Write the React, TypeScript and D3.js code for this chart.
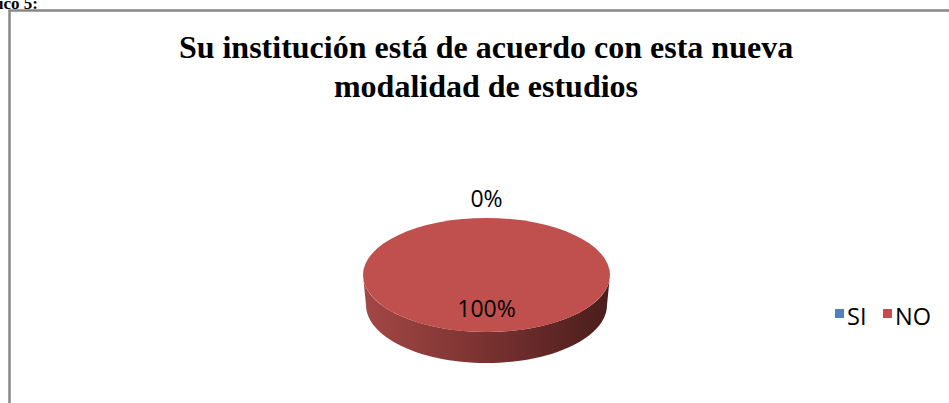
import React from "react";
import * as d3 from "d3";

const categories = ["SI", "NO"];
const values = [0, 100];
const colors = ["#4f81bd", "#c0504d"];
const titleLines = ["Su institución está de acuerdo con esta nueva", "modalidad de estudios"];
const caption = "Gráfico 5:";

const W = 949;
const H = 403;

export default function App() {
  const cx = 486.5;
  const cy = 275;
  const rx = 123.5;
  const ry = 57;
  const depth = 30;
  const total = d3.sum(values);
  const pie = d3.pie<number>().sort(null).value((d) => d);
  const arcs = pie(values);

  const ellipsePt = (a: number, k: number, dy = 0) => [cx + rx * k * Math.sin(a), cy + dy - ry * k * Math.cos(a)];

  const n = 60;
  const front: [number, number][] = [];
  for (let i = 0; i <= n; i++) {
    const t = Math.PI / 2 + (Math.PI * i) / n;
    front.push([cx + rx * Math.sin(t), cy - ry * Math.cos(t)]);
  }
  const back: [number, number][] = [];
  const rxb = rx - 3;
  const ryb = ry + 1;
  for (let i = n; i >= 0; i--) {
    const t = Math.PI / 2 + (Math.PI * i) / n;
    back.push([cx + rxb * Math.sin(t), cy + depth - ryb * Math.cos(t)]);
  }
  const sidePath = d3.line()([...front, ...back]) + "Z";

  const topArc = (a0: number, a1: number) => {
    if (a1 - a0 <= 0) return "";
    if (a1 - a0 >= 2 * Math.PI - 1e-6) {
      return `M${cx - rx},${cy}A${rx},${ry} 0 1,0 ${cx + rx},${cy}A${rx},${ry} 0 1,0 ${cx - rx},${cy}Z`;
    }
    const p0 = ellipsePt(a0, 1);
    const p1 = ellipsePt(a1, 1);
    const large = a1 - a0 > Math.PI ? 1 : 0;
    return `M${cx},${cy}L${p0[0]},${p0[1]}A${rx},${ry} 0 ${large},1 ${p1[0]},${p1[1]}Z`;
  };

  const labelFont = "'Open Sans', 'Liberation Sans', sans-serif";

  return (
    <svg width={W} height={H} style={{ position: "absolute", left: 0, top: 0, background: "#fff" }}>
      <defs>
        <linearGradient id="sideGrad" x1="0" x2="1" y1="0" y2="0">
          <stop offset="0" stopColor="#a34846" />
          <stop offset="0.45" stopColor="#7d3432" />
          <stop offset="1" stopColor="#4a1d1c" />
        </linearGradient>
      </defs>
      <rect x={0} y={0} width={W} height={H} fill="#fff" />
      <text x={38} y={9} textAnchor="end" fontFamily="'Liberation Serif', 'Times New Roman', serif" fontWeight="bold" fontSize={17} fill="#000">
        {caption}
      </text>
      <rect x={9.5} y={10.5} width={W + 20} height={H + 20} fill="none" stroke="#878787" strokeWidth={2.5} />
      {titleLines.map((t, i) => (
        <text key={i} x={486} y={58 + i * 38.5} textAnchor="middle" fontFamily="'Liberation Serif', 'Times New Roman', serif" fontWeight="bold" fontSize={32} fill="#000">
          {t}
        </text>
      ))}
      <path d={sidePath} fill="url(#sideGrad)" />
      {arcs.map((a, i) => (
        <path key={i} d={topArc(a.startAngle, a.endAngle)} fill={colors[i]} />
      ))}
      {arcs.map((a, i) => {
        const mid = (a.startAngle + a.endAngle) / 2;
        const pct = Math.round((values[i] / total) * 100) + "%";
        const k = values[i] === 0 ? 1.33 : 0.6;
        const p = ellipsePt(mid, k);
        return (
          <text key={"l" + i} x={p[0]} y={p[1]} dy="0.36em" textAnchor="middle" fontFamily={labelFont} fontSize={23} fill="#000">
            {pct}
          </text>
        );
      })}
      {categories.map((c, i) => {
        const x0 = 835 + i * 48;
        return (
          <g key={c}>
            <rect x={x0} y={309} width={9} height={9} fill={colors[i]} />
            <text x={x0 + 12} y={325} fontFamily={labelFont} fontSize={23.5} fill="#000">
              {c}
            </text>
          </g>
        );
      })}
    </svg>
  );
}
